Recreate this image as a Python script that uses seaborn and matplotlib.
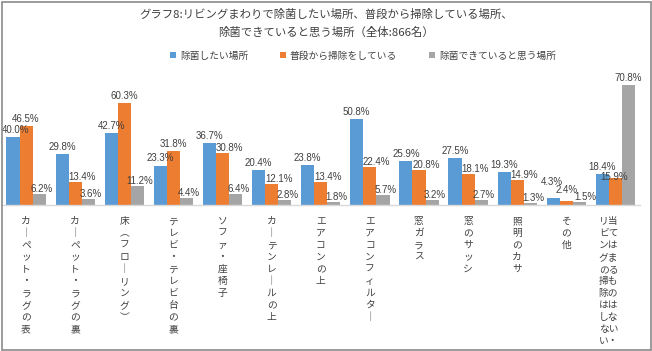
import matplotlib
matplotlib.use("Agg")
import matplotlib.pyplot as plt
from matplotlib.patches import Rectangle, Patch
from matplotlib.transforms import ScaledTranslation
import seaborn as sns
import pandas as pd

categories = [
    "カーペット・ラグの表",
    "カーペット・ラグの裏",
    "床（フローリング）",
    "テレビ・テレビ台の裏",
    "ソファ・座椅子",
    "カーテンレールの上",
    "エアコンの上",
    "エアコンフィルター",
    "窓ガラス",
    "窓のサッシ",
    "照明のカサ",
    "その他",
    "当てはまるものはない・リビングの掃除はしない",
]
series_names = ["除菌したい場所", "普段から掃除をしている", "除菌できていると思う場所"]
want_to_disinfect = [40.0, 29.8, 42.7, 23.3, 36.7, 20.4, 23.8, 50.8, 25.9, 27.5, 19.3, 4.3, 18.4]
usually_clean = [46.5, 13.4, 60.3, 31.8, 30.8, 12.1, 13.4, 22.4, 20.8, 18.1, 14.9, 2.4, 15.9]
think_disinfected = [6.2, 3.6, 11.2, 4.4, 6.4, 2.8, 1.8, 5.7, 3.2, 2.7, 1.3, 1.5, 70.8]
colors = ["#5B9BD5", "#ED7D31", "#A5A5A5"]
title = "グラフ8:リビングまわりで除菌したい場所、普段から掃除している場所、\n除菌できていると思う場所（全体:866名）"

rows = []
for name, vals in zip(series_names, [want_to_disinfect, usually_clean, think_disinfected]):
    for c, v in zip(categories, vals):
        rows.append({"cat": c, "series": name, "value": v})
df = pd.DataFrame(rows)

sns.set_theme(style="white")
plt.rcParams["font.family"] = ["Noto Sans CJK JP", "DejaVu Sans"]

W, H = 652, 351
fig = plt.figure(figsize=(W / 100, H / 100), dpi=100)
ax = fig.add_axes([1.5 / W, (H - 205) / H, 638.5 / W, 135.6 / H])

sns.barplot(data=df, x="cat", y="value", hue="series", order=categories,
            hue_order=series_names, palette=colors, saturation=1,
            width=0.8, linewidth=0, errorbar=None, ax=ax, legend=False)

ax.set_ylim(0, 80)
ax.set_xlim(-0.5, len(categories) - 0.5)
ax.set_xlabel("")
ax.set_ylabel("")
ax.set_yticks([])
for s in ["top", "right", "left"]:
    ax.spines[s].set_visible(False)
ax.spines["bottom"].set_color("#d9d9d9")
ax.spines["bottom"].set_linewidth(1.0)
ax.patch.set_alpha(0)

label_sets = []
for cont in ax.containers:
    label_sets.append(ax.bar_label(cont, fmt="%.1f%%", padding=1.5, fontsize=7, color="#404040",
                                   family=["Liberation Sans Narrow", "Liberation Sans"]))

# label placement quirks of the original chart (offsets in points)
n = len(categories)
nudges = {}
for i in range(n):
    if usually_clean[i] < want_to_disinfect[i]:
        nudges[(1, i)] = (5, -1.5)
    if i < n - 1:
        nudges[(2, i)] = (2, -1.5)
nudges[(0, 0)] = (2, 0)
nudges[(0, 11)] = (-1, 6.5)
nudges[(1, 11)] = (0, 2.5)
nudges[(2, 11)] = (4.3, -1.5)
nudges[(1, 12)] = (-1, -4.7)
for (s, i), (dx, dy) in nudges.items():
    t = label_sets[s][i]
    x0, y0 = t.xyann
    t.xyann = (x0 + dx, y0 + dy)


def vert(s):
    s = s.replace("ー", "｜").replace("（", "︵").replace("）", "︶")
    return s


labels = []
for c in categories:
    if "・リビング" in c:
        right, left = c.split("・リビング")
        right = vert(right + "・")
        left = vert("リビング" + left)
        labels.append("\n".join(l + r for l, r in zip(left, right)))
    else:
        labels.append("\n".join(vert(c)))

ax.set_xticks(range(len(categories)))
ax.set_xticklabels(labels, fontsize=7, color="#404040", linespacing=1.25, va="top")
ax.tick_params(axis="x", length=0, pad=8)
lab = ax.get_xticklabels()[-1]
lab.set_transform(lab.get_transform() + ScaledTranslation(-7 / 100, 0, fig.dpi_scale_trans))

fig.text(326 / W, 1 - 9 / H, title, ha="center", va="top", fontsize=8.2,
         color="#404040", linespacing=1.75)

handles = [Patch(facecolor=c, edgecolor="none") for c in colors]
fig.legend(handles, series_names, loc="center", bbox_to_anchor=(363 / W, 1 - 55.7 / H),
           ncol=3, frameon=False, fontsize=7, handlelength=0.6, handleheight=0.6,
           handletextpad=0.4, columnspacing=3.3, labelcolor="#404040")

fig.add_artist(Rectangle((1.5 / W, 1.5 / H), 649 / W, 348 / H, transform=fig.transFigure,
                         fill=False, edgecolor="#8a8a8a", linewidth=1.2))

fig.savefig("out.png", dpi=100)
